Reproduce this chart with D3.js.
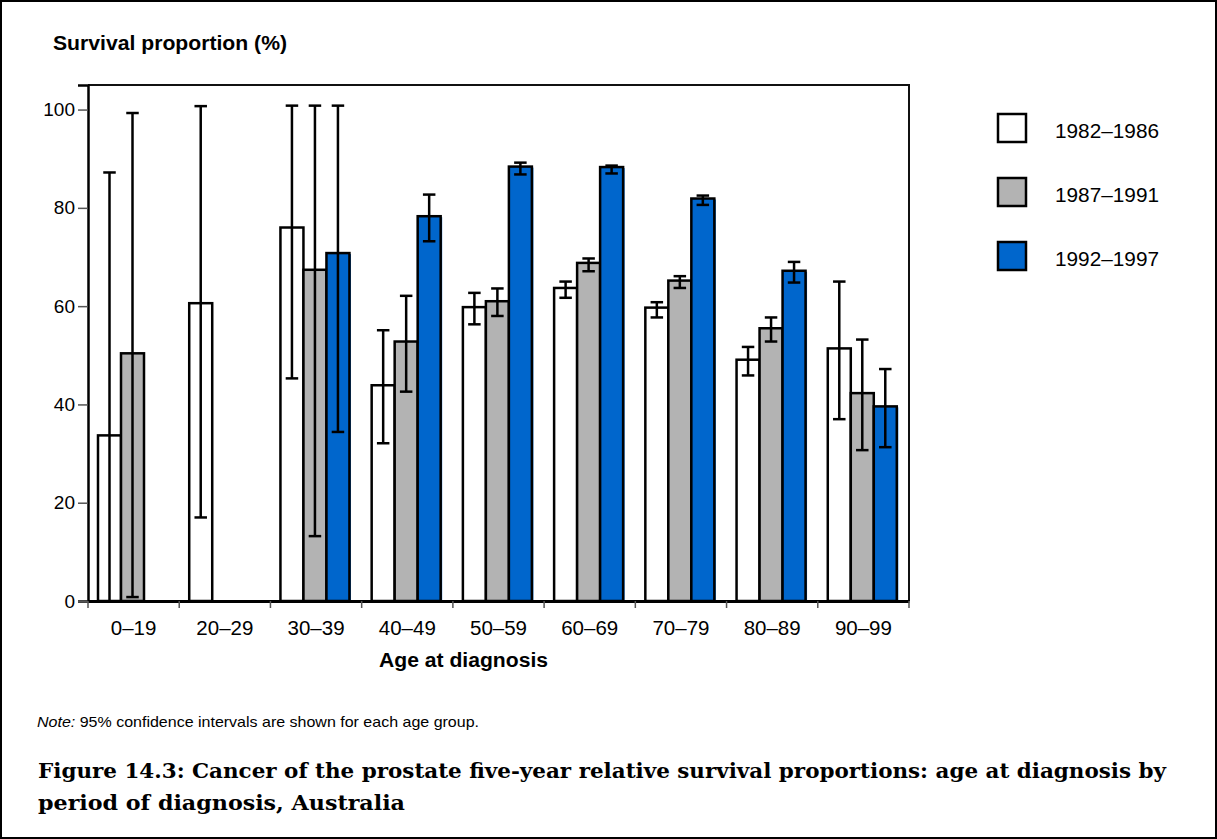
<!DOCTYPE html>
<html>
<head>
<meta charset="utf-8">
<script src="https://cdn.jsdelivr.net/npm/d3@7"></script>
<style>
  html, body { margin: 0; padding: 0; background: #fff; }
  svg { display: block; }
  text { fill: #000; }
</style>
</head>
<body>
<svg id="chart" width="1217" height="839" font-family="Liberation Sans, Arial, Helvetica, sans-serif"></svg>
<script>
// ---------- data ----------
const categories = ["0–19", "20–29", "30–39", "40–49", "50–59", "60–69", "70–79", "80–89", "90–99"];
const seriesNames = ["1982–1986", "1987–1991", "1992–1997"];
const seriesColors = ["#ffffff", "#b3b3b3", "#0066cc"];

const values1982 = [33.7, 60.6, 76.0, 43.9, 59.8, 63.7, 59.7, 49.1, 51.4];
const lower1982  = [0.0, 17.0, 45.3, 32.1, 56.3, 61.7, 57.7, 45.9, 37.0];
const upper1982  = [87.2, 100.7, 100.8, 55.1, 62.7, 65.0, 60.8, 51.7, 65.0];

const values1987 = [50.4, null, 67.4, 52.8, 61.0, 68.8, 65.2, 55.5, 42.3];
const lower1987  = [0.8, null, 13.2, 42.6, 58.0, 67.1, 63.7, 52.8, 30.7];
const upper1987  = [99.3, null, 100.8, 62.1, 63.6, 69.7, 66.1, 57.7, 53.2];

const values1992 = [null, null, 70.8, 78.3, 88.4, 88.3, 81.9, 67.2, 39.6];
const lower1992  = [null, null, 34.4, 73.2, 86.8, 87.0, 80.6, 64.8, 31.3];
const upper1992  = [null, null, 100.8, 82.7, 89.2, 88.6, 82.5, 69.0, 47.2];

const yTicks = [0, 20, 40, 60, 80, 100];

const yTitle = "Survival proportion (%)";
const xTitle = "Age at diagnosis";
const noteLabel = "Note:";
const noteText = " 95% confidence intervals are shown for each age group.";
const captionLines = [
  "Figure 14.3: Cancer of the prostate five-year relative survival proportions: age at diagnosis by",
  "period of diagnosis, Australia"
];

// ---------- build table ----------
const seriesValues = [values1982, values1987, values1992];
const seriesLower = [lower1982, lower1987, lower1992];
const seriesUpper = [upper1982, upper1987, upper1992];
const rows = [];
categories.forEach((c, i) => {
  seriesNames.forEach((s, j) => {
    if (seriesValues[j][i] != null) {
      rows.push({cat: c, series: s, idx: j, v: seriesValues[j][i], lo: seriesLower[j][i], hi: seriesUpper[j][i]});
    }
  });
});

// ---------- layout ----------
const svg = d3.select("#chart");
const plot = {left: 88, right: 909, top: 85, bottom: 601};

const x0 = d3.scaleBand().domain(categories).range([plot.left, plot.right]).padding(0);
const x1 = d3.scaleBand().domain(seriesNames).range([10, 79]).padding(0);
const y = d3.scaleLinear().domain([0, 105]).range([plot.bottom, plot.top]);

// outer border
svg.append("rect").attr("x", 1).attr("y", 1).attr("width", 1215).attr("height", 837)
  .attr("fill", "none").attr("stroke", "#000").attr("stroke-width", 2);

// plot frame (top & right)
svg.append("path")
  .attr("d", `M${plot.left},${plot.top}H${plot.right}V${plot.bottom}`)
  .attr("fill", "none").attr("stroke", "#111").attr("stroke-width", 2);

// bars
const gBars = svg.append("g");
gBars.selectAll("rect.shadow").data(rows.filter(d => d.idx === 2)).join("rect")
  .attr("class", "shadow")
  .attr("x", d => x0(d.cat) + x1(d.series) + 1.5)
  .attr("y", d => y(d.v) + 1)
  .attr("width", x1.bandwidth())
  .attr("height", d => y(0) - y(d.v) - 1)
  .attr("fill", "#0066cc");

gBars.selectAll("rect.bar").data(rows).join("rect")
  .attr("class", "bar")
  .attr("x", d => x0(d.cat) + x1(d.series))
  .attr("y", d => y(d.v))
  .attr("width", x1.bandwidth())
  .attr("height", d => y(0) - y(d.v))
  .attr("fill", d => seriesColors[d.idx])
  .attr("stroke", "#000").attr("stroke-width", 2.5);

// error bars
const capW = 12.5;
const gErr = svg.append("g").attr("stroke", "#000").attr("stroke-width", 2.5).attr("fill", "none");
rows.forEach(d => {
  const cx = x0(d.cat) + x1(d.series) + x1.bandwidth() / 2;
  gErr.append("line").attr("x1", cx).attr("x2", cx).attr("y1", y(d.hi)).attr("y2", y(d.lo));
  gErr.append("line").attr("x1", cx - capW / 2).attr("x2", cx + capW / 2).attr("y1", y(d.hi)).attr("y2", y(d.hi));
  if (d.lo > 0.3) {
    gErr.append("line").attr("x1", cx - capW / 2).attr("x2", cx + capW / 2).attr("y1", y(d.lo)).attr("y2", y(d.lo));
  }
});

// y axis
const yAxis = d3.axisLeft(y).tickValues(yTicks).tickSize(10).tickPadding(3).tickFormat(d3.format("d"));
const gy = svg.append("g").attr("transform", `translate(${plot.left},0)`).call(yAxis);
gy.attr("font-family", null).attr("font-size", null);
gy.select(".domain").attr("stroke", "#000").attr("stroke-width", 2.5);
gy.selectAll(".tick line").attr("stroke", "#555").attr("stroke-width", 1.5);
gy.selectAll(".tick text").attr("font-size", 19).attr("fill", "#000");

// x axis
const xAxis = d3.axisBottom(x0).tickSize(0).tickPadding(0);
const gx = svg.append("g").attr("transform", `translate(0,${plot.bottom})`).call(xAxis);
gx.attr("font-family", null).attr("font-size", null);
gx.select(".domain").attr("stroke", "#000").attr("stroke-width", 3);
gx.selectAll(".tick text").attr("font-size", 20.5)
  .attr("fill", "#000").attr("dy", null).attr("y", 34);
// boundary ticks
const boundaries = categories.map(c => x0(c)).concat([x0.range()[1]]);
svg.append("g").selectAll("line").data(boundaries).join("line")
  .attr("x1", d => d).attr("x2", d => d)
  .attr("y1", plot.bottom).attr("y2", plot.bottom + 7)
  .attr("stroke", "#555").attr("stroke-width", 1.5);

// axis titles
svg.append("text").attr("x", 53).attr("y", 50).attr("font-size", 20).attr("font-weight", "bold")
  .attr("textLength", 234).attr("lengthAdjust", "spacingAndGlyphs").text(yTitle);
svg.append("text").attr("x", 379).attr("y", 667).attr("font-size", 20).attr("font-weight", "bold")
  .attr("textLength", 169).attr("lengthAdjust", "spacingAndGlyphs").text(xTitle);

// legend
const legend = svg.append("g");
seriesNames.forEach((s, j) => {
  const ly = 114 + j * 64;
  legend.append("rect").attr("x", 998).attr("y", ly).attr("width", 28).attr("height", 28)
    .attr("fill", seriesColors[j]).attr("stroke", "#000").attr("stroke-width", 2.5);
  legend.append("text").attr("x", 1055).attr("y", ly + 23.5).attr("font-size", 19.5)
    .attr("textLength", 104).attr("lengthAdjust", "spacingAndGlyphs").text(s);
});

// note
const note = svg.append("text").attr("x", 37).attr("y", 727).attr("font-size", 14.5)
  .attr("textLength", 442).attr("lengthAdjust", "spacingAndGlyphs");
note.append("tspan").attr("font-style", "italic").text(noteLabel);
note.append("tspan").text(noteText);

// caption
const capWidths = [1128, 367];
captionLines.forEach((t, i) => {
  svg.append("text").attr("x", 38).attr("y", 778 + i * 32)
    .style("font-family", "'DejaVu Serif', 'Liberation Serif', serif")
    .attr("font-weight", "bold").attr("font-size", 19.5)
    .attr("textLength", capWidths[i]).attr("lengthAdjust", "spacingAndGlyphs")
    .text(t);
});
</script>
</body>
</html>
